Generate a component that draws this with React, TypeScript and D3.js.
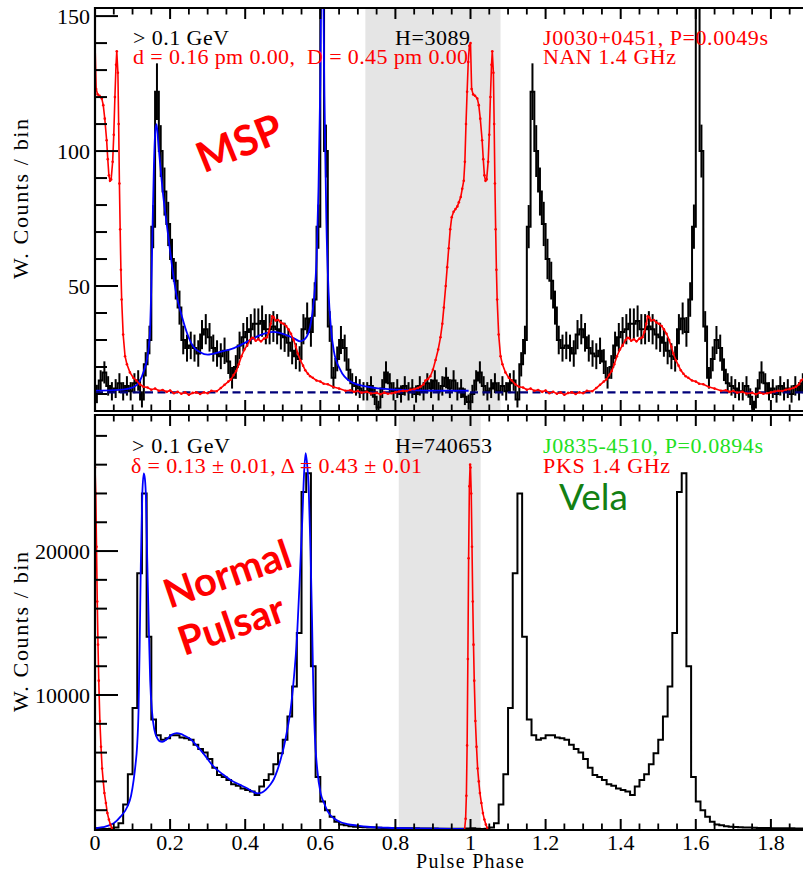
import React from 'react';
import * as d3 from 'd3';

// ---------------- data ----------------
const PHASE_DOMAIN: [number, number] = [0, 2];
const ROTATIONS = [0, 1];

// MSP J0030+0451 gamma-ray light curve (weighted counts per 0.01 phase bin)
const MSP_BIN = 0.01;
const MSP_COUNTS = [
  10, 15, 18, 13, 11, 12, 14, 11, 13, 11, 14, 15, 8, 21, 30, 72, 122, 100, 85, 73,
  60, 52, 42, 30, 27, 28, 27, 25, 32, 34, 31, 27, 25, 24, 26, 22, 16, 20, 28, 31,
  33, 34, 36, 36, 37, 34, 34, 35, 34, 32, 31, 29, 26, 24, 23, 34, 38, 33, 45, 72,
  170, 100, 35, 16, 23, 30, 27, 19, 14, 13, 12, 11, 11, 13, 9, 5, 12, 18, 14, 11,
  12, 10, 13, 11, 12, 10, 13, 11, 14, 12, 15, 11, 13, 16, 12, 15, 11, 12, 9, 7,
];
const MSP_ERRORS = [
  3.4, 3.8, 4.1, 3.6, 3.4, 3.5, 3.7, 3.4, 3.6, 3.4, 3.7, 3.8, 3.0,
  4.5, 5.3, 8.0, 10.5, 9.6, 8.9, 8.2, 7.5, 7.0, 6.3, 5.3, 5.0,
  5.1, 5.0, 4.9, 5.4, 5.6, 5.3, 5.0, 4.9, 4.8, 4.9, 4.6, 4.0, 4.4, 5.1, 5.3, 5.5, 5.6,
  5.7, 5.7, 5.8, 5.6, 5.6, 5.7, 5.6, 5.5, 5.4, 5.2, 5.0, 4.8, 4.7, 5.6, 5.9, 5.5, 6.4,
  8.2, 12.5, 9.8, 5.7, 4.0, 4.6, 5.2, 5.0, 4.2, 3.7, 3.6,
  3.5, 3.4, 3.4, 3.6, 3.1, 2.5, 3.5, 4.1, 3.7, 3.4, 3.5, 3.2, 3.6, 3.4, 3.5, 3.2, 3.6,
  3.4, 3.7, 3.5, 3.8, 3.4, 3.6, 3.9, 3.5, 3.8, 3.4, 3.5, 3.1, 2.8,
];
const MSP_BACKGROUND = 10.6;
const MSP_FIT: [number, number][] = [
  [0, 11.2], [0.05, 11.4], [0.09, 12], [0.11, 13.2], [0.12, 15], [0.13, 18.5], [0.138, 22.6],
  [0.146, 32], [0.15, 50], [0.153, 70], [0.157, 95], [0.161, 108], [0.164, 110], [0.168, 104],
  [0.173, 96], [0.182, 83], [0.191, 73], [0.2, 63], [0.209, 53.5], [0.218, 46], [0.227, 41],
  [0.245, 32.6], [0.262, 27.5], [0.28, 25.5], [0.3, 24.6], [0.333, 25.6], [0.37, 27],
  [0.405, 29.4], [0.44, 31.8], [0.475, 33], [0.51, 31.8], [0.53, 30.6], [0.547, 29.5],
  [0.56, 30.5], [0.573, 35], [0.583, 45], [0.59, 60], [0.595, 85], [0.6, 125], [0.603, 165],
  [0.607, 165], [0.611, 120], [0.616, 75], [0.622, 48], [0.628, 35], [0.636, 26], [0.653, 19],
  [0.68, 14.6], [0.724, 12.7], [0.8, 11.6], [0.9, 11.2], [0.995, 11.2],
];
const MSP_RADIO: [number, number][] = [
  [0.000, 140], [0.003, 123], [0.007, 121], [0.012, 120.5], [0.018, 119.5], [0.022, 117],
  [0.026, 112], [0.031, 104], [0.034, 97], [0.037, 91], [0.040, 89], [0.043, 89.5], [0.047, 96],
  [0.050, 106], [0.053, 120], [0.056, 132], [0.058, 137], [0.061, 129], [0.063, 110], [0.065, 88],
  [0.067, 71], [0.069, 56], [0.071, 45], [0.075, 32], [0.080, 24], [0.085, 21], [0.093, 18],
  [0.102, 16], [0.110, 15], [0.120, 13.5], [0.129, 12.7], [0.14, 12.4], [0.15, 11.6], [0.16, 12],
  [0.17, 11.2], [0.18, 11.5], [0.191, 10.8], [0.20, 11.3], [0.21, 10.3], [0.22, 10.8], [0.23, 10.1],
  [0.24, 10.6], [0.25, 9.7], [0.26, 10.4], [0.27, 10.6], [0.28, 10], [0.29, 10.6], [0.30, 10.3],
  [0.31, 11.2], [0.324, 11], [0.335, 12.2], [0.345, 13.4], [0.355, 14.6], [0.362, 15.4], [0.369, 17],
  [0.376, 18.5], [0.383, 21], [0.39, 24], [0.398, 26.5], [0.405, 28], [0.413, 30], [0.418, 30.8],
  [0.422, 30.7], [0.428, 29.7], [0.435, 30.3], [0.442, 29.5], [0.45, 30.5], [0.458, 31], [0.463, 33],
  [0.468, 36], [0.472, 38.8], [0.476, 38.4], [0.481, 37.2], [0.488, 37.4], [0.495, 36.5], [0.502, 36],
  [0.509, 35.2], [0.515, 34], [0.522, 32.3], [0.529, 30], [0.535, 27.5], [0.54, 25], [0.547, 22.5],
  [0.554, 20.5], [0.56, 18.8], [0.567, 17.5], [0.573, 16.6], [0.58, 16], [0.59, 15], [0.6, 14.6],
  [0.609, 13.8], [0.62, 13.6], [0.635, 12.6], [0.65, 12], [0.667, 11.2], [0.68, 11.4], [0.69, 10.8],
  [0.70, 11.1], [0.71, 10.5], [0.724, 10.8], [0.735, 10.2], [0.75, 10.4], [0.76, 9.9], [0.77, 10.5],
  [0.78, 10.1], [0.79, 10.3], [0.80, 10.6], [0.81, 10.9], [0.82, 11.2], [0.83, 11.1], [0.84, 11.6],
  [0.85, 11.8], [0.86, 12.2], [0.867, 12.7], [0.875, 13.6], [0.88, 15], [0.887, 15.6], [0.893, 16.6],
  [0.90, 19], [0.907, 22.6], [0.914, 26.5], [0.92, 31], [0.925, 36], [0.929, 42], [0.934, 50],
  [0.938, 57], [0.942, 64], [0.946, 71], [0.950, 75.5], [0.955, 77.5], [0.960, 78.5], [0.965, 79.5],
  [0.969, 81], [0.974, 83], [0.978, 86], [0.982, 89], [0.985, 96], [0.988, 110], [0.991, 122],
  [0.994, 133], [0.997, 139],
];
const MSP_OFFPULSE: [number, number] = [0.72, 1.08];
const MSP_Y: [number, number] = [3.7, 153];
const MSP_Y_MAJOR = [50, 100, 150];
const MSP_Y_MINOR_STEP = 10;

// Vela gamma-ray light curve (weighted counts per 0.0125 phase bin)
const VELA_BIN = 0.0125;
const VELA_COUNTS = [
  740, 720, 700, 720, 800, 1100, 2400, 4500, 9100, 18450, 24000, 14050, 8300, 7200, 6900, 7000,
  7200, 7200, 7050, 7000, 6900, 6550, 6250, 6000, 5550, 4950, 4450, 4300, 4100, 3800, 3700, 3500,
  3400, 3300, 3050, 3650, 4100, 4500, 5200, 5950, 6900, 8500, 10600, 14300, 24100, 25400, 12000,
  4300, 2600, 2000, 1550, 1200, 1000, 950, 880, 850, 830, 810, 800, 790, 780, 770, 760, 760, 750,
  750, 745, 740, 740, 735, 730, 730, 725, 720, 720, 715, 715, 710, 720, 730,
];
const VELA_FIT: [number, number][] = [
  [0, 740], [0.02, 820], [0.05, 1090], [0.068, 1550], [0.086, 2240], [0.096, 3000], [0.103, 4100],
  [0.108, 5200], [0.112, 6400], [0.116, 9000], [0.119, 13500], [0.122, 19000], [0.126, 24000],
  [0.130, 25400], [0.133, 25000], [0.136, 23500], [0.139, 19500], [0.143, 15000], [0.147, 11000],
  [0.152, 8800], [0.158, 7600], [0.166, 7000], [0.172, 6800], [0.179, 6750], [0.192, 6950],
  [0.205, 7250], [0.218, 7350], [0.228, 7300], [0.24, 7150], [0.254, 6950], [0.27, 6500],
  [0.29, 5900], [0.316, 5020], [0.34, 4500], [0.361, 4100], [0.385, 3780], [0.405, 3520],
  [0.42, 3300], [0.432, 3170], [0.444, 3220], [0.454, 3400], [0.466, 3750], [0.476, 4150],
  [0.486, 4800], [0.494, 5490], [0.503, 6400], [0.512, 7570], [0.521, 9000], [0.529, 11000],
  [0.538, 14050], [0.546, 18500], [0.552, 22150], [0.557, 25500], [0.561, 26800], [0.565, 26000],
  [0.569, 24450], [0.574, 20000], [0.578, 15200], [0.581, 11000], [0.585, 7500], [0.592, 4800],
  [0.601, 3170], [0.61, 2500], [0.618, 2010], [0.627, 1650], [0.636, 1440], [0.65, 1220],
  [0.672, 1040], [0.70, 930], [0.725, 850], [0.78, 780], [0.849, 740], [0.92, 715], [0.982, 700],
];
const VELA_RADIO: [number, number][] = [
  [0.000, 25800], [0.002, 24000], [0.004, 20300], [0.006, 16500], [0.008, 13500], [0.010, 11000],
  [0.013, 8200], [0.016, 6400], [0.019, 4900], [0.022, 4000], [0.025, 3200], [0.029, 2500],
  [0.033, 1800], [0.037, 1350], [0.041, 1000], [0.045, 760], [0.05, 560], [0.055, 420], [0.06, 300],
  [0.07, 150], [0.1, 50], [0.5, 0], [0.95, 0], [0.975, 80], [0.980, 250], [0.984, 600], [0.987, 1400],
  [0.989, 3000], [0.991, 6500], [0.993, 12500], [0.995, 19500], [0.997, 24500], [0.999, 26000],
];
const VELA_OFFPULSE: [number, number] = [0.809, 1.027];
const VELA_Y: [number, number] = [625, 29450];
const VELA_Y_MAJOR = [10000, 20000];
const VELA_Y_MINOR_STEP = 2000;

// ---------------- layout ----------------
const W = 803;
const H = 876;
const X0 = 95;
const X1 = 846;
const TOP = { y0: 8, y1: 411 };
const BOT = { y0: 415, y1: 830 };
const SERIF = "'Liberation Serif', 'Times New Roman', Times, serif";
const SANS = "Lato, 'Open Sans', 'Noto Sans', sans-serif";

type Pt = [number, number];

function Panel(props: {
  id: string;
  x: d3.ScaleLinear<number, number>;
  y: d3.ScaleLinear<number, number>;
  y0: number;
  y1: number;
  counts: number[];
  bin: number;
  errors?: number[];
  fit: Pt[];
  radio: Pt[];
  offpulse: [number, number];
  background?: number;
  yMajor: number[];
  yMinorStep: number;
}) {
  const { id, x, y, y0, y1, counts, bin, errors, fit, radio, offpulse, background, yMajor, yMinorStep } = props;
  const [d0, d1] = y.domain();

  const hist: Pt[] = [];
  ROTATIONS.forEach((r) => counts.forEach((c, i) => hist.push([r + i * bin, c])));
  hist.push([ROTATIONS.length, counts[counts.length - 1]]);
  const stepLine = d3
    .line<Pt>()
    .x((d) => x(d[0]))
    .y((d) => y(d[1]))
    .curve(d3.curveStepAfter);

  const smooth = d3
    .line<Pt>()
    .x((d) => x(d[0]))
    .y((d) => y(d[1]))
    .curve(d3.curveMonotoneX);

  const radioPts: Pt[] = [];
  [-1, 0, 1, 2].forEach((r) => radio.forEach(([p, v]) => radioPts.push([p + r, v])));
  const radioVis = radioPts.filter((d) => d[0] >= -0.12 && d[0] <= 2.12);
  const radioLine = d3
    .line<Pt>()
    .x((d) => x(d[0]))
    .y((d) => y(d[1]));

  const xMajor = d3.ticks(PHASE_DOMAIN[0], PHASE_DOMAIN[1], 10);
  const xMinor = d3.ticks(PHASE_DOMAIN[0], PHASE_DOMAIN[1], 40).filter(
    (t) => !xMajor.some((m) => Math.abs(m - t) < 1e-9)
  );
  const yMinor = d3
    .range(Math.ceil(d0 / yMinorStep) * yMinorStep, d1, yMinorStep)
    .filter((t) => !yMajor.includes(t));

  const clipId = `clip-${id}`;
  return (
    <g>
      <defs>
        <clipPath id={clipId}>
          <rect x={X0 - 1} y={y0} width={X1 - X0 + 1} height={y1 - y0} />
        </clipPath>
      </defs>
      <rect
        x={x(offpulse[0])}
        y={y0}
        width={x(offpulse[1]) - x(offpulse[0])}
        height={y1 - y0}
        fill="#e5e5e5"
      />
      <g clipPath={`url(#${clipId})`}>
        <path d={stepLine(hist) || ''} fill="none" stroke="#000" strokeWidth={2} />
        {errors &&
          ROTATIONS.map((r) =>
            counts.map((c, i) => {
              const cx = x(r + (i + 0.5) * bin);
              return (
                <line
                  key={`e${r}-${i}`}
                  x1={cx}
                  x2={cx}
                  y1={y(c - errors[i])}
                  y2={y(c + errors[i])}
                  stroke="#000"
                  strokeWidth={2}
                />
              );
            })
          )}
        <path d={smooth(fit) || ''} fill="none" stroke="#0000ff" strokeWidth={1.8} />
        {background !== undefined && (
          <line
            x1={X0}
            x2={X1}
            y1={y(background)}
            y2={y(background)}
            stroke="#00007a"
            strokeWidth={2.2}
            strokeDasharray="8,4.5"
          />
        )}
        <path d={radioLine(radioVis) || ''} fill="none" stroke="#ff0000" strokeWidth={1.6} />
        {radioVis
          .filter((d) => d[1] >= d0 && d[1] <= d1 && d[0] >= 0 && d[0] <= 2)
          .map((d, i) => (
            <circle key={`r${i}`} cx={x(d[0])} cy={y(d[1])} r={1.3} fill="#ff0000" />
          ))}
      </g>
      <line x1={X0} x2={W + 5} y1={y0} y2={y0} stroke="#000" strokeWidth={2} />
      <line x1={X0} x2={W + 5} y1={y1} y2={y1} stroke="#000" strokeWidth={2} />
      <line x1={X0} x2={X0} y1={y0 - 1} y2={y1 + 1} stroke="#000" strokeWidth={2.2} />
      {xMajor.map((t) => (
        <g key={`xM${t}`}>
          <line x1={x(t)} x2={x(t)} y1={y0} y2={y0 + 11} stroke="#000" strokeWidth={2} />
          <line x1={x(t)} x2={x(t)} y1={y1} y2={y1 - 11} stroke="#000" strokeWidth={2} />
        </g>
      ))}
      {xMinor.map((t) => (
        <g key={`xm${t}`}>
          <line x1={x(t)} x2={x(t)} y1={y0} y2={y0 + 6.5} stroke="#000" strokeWidth={1.8} />
          <line x1={x(t)} x2={x(t)} y1={y1} y2={y1 - 6.5} stroke="#000" strokeWidth={1.8} />
        </g>
      ))}
      {yMajor.map((t) => (
        <g key={`yM${t}`}>
          <line x1={X0} x2={X0 + 23} y1={y(t)} y2={y(t)} stroke="#000" strokeWidth={2} />
          <text
            x={90}
            y={y(t)}
            dy="0.36em"
            textAnchor="end"
            style={{ fontFamily: SERIF }}
            fontSize={22}
            fill="#000"
          >
            {t}
          </text>
        </g>
      ))}
      {yMinor.map((t) => (
        <line key={`ym${t}`} x1={X0} x2={X0 + 12} y1={y(t)} y2={y(t)} stroke="#000" strokeWidth={2} />
      ))}
    </g>
  );
}

function T(props: {
  x: number;
  y: number;
  len: number;
  fill?: string;
  size?: number;
  children: React.ReactNode;
}) {
  return (
    <text
      x={props.x}
      y={props.y}
      fontSize={props.size || 22}
      fill={props.fill || '#000'}
      textLength={props.len}
      lengthAdjust="spacing"
      style={{ whiteSpace: 'pre', fontFamily: SERIF }}
    >
      {props.children}
    </text>
  );
}

export default function App() {
  const x = d3.scaleLinear().domain(PHASE_DOMAIN).range([X0, X1]);
  const yTop = d3.scaleLinear().domain(MSP_Y).range([TOP.y1, TOP.y0]);
  const yBot = d3.scaleLinear().domain(VELA_Y).range([BOT.y1, BOT.y0]);
  const xLabels = d3.ticks(PHASE_DOMAIN[0], PHASE_DOMAIN[1], 10).filter((t) => x(t) < W - 12);
  const fmt = d3.format('~g');

  return (
    <svg
      width={W}
      height={H}
      viewBox={`0 0 ${W} ${H}`}
      style={{ position: 'absolute', left: 0, top: 0, background: '#fff' }}
    >
      <rect x={0} y={0} width={W} height={H} fill="#fff" />
      <Panel
        id="msp"
        x={x}
        y={yTop}
        y0={TOP.y0}
        y1={TOP.y1}
        counts={MSP_COUNTS}
        bin={MSP_BIN}
        errors={MSP_ERRORS}
        fit={MSP_FIT}
        radio={MSP_RADIO}
        offpulse={MSP_OFFPULSE}
        background={MSP_BACKGROUND}
        yMajor={MSP_Y_MAJOR}
        yMinorStep={MSP_Y_MINOR_STEP}
      />
      <Panel
        id="vela"
        x={x}
        y={yBot}
        y0={BOT.y0}
        y1={BOT.y1}
        counts={VELA_COUNTS}
        bin={VELA_BIN}
        fit={VELA_FIT}
        radio={VELA_RADIO}
        offpulse={VELA_OFFPULSE}
        yMajor={VELA_Y_MAJOR}
        yMinorStep={VELA_Y_MINOR_STEP}
      />

      {xLabels.map((t) => (
        <text
          key={`xl${t}`}
          x={x(t)}
          y={850}
          textAnchor="middle"
          style={{ fontFamily: SERIF }}
          fontSize={22}
          fill="#000"
        >
          {fmt(t)}
        </text>
      ))}
      <text
        x={470}
        y={868}
        textAnchor="middle"
        style={{ fontFamily: SERIF }}
        fontSize={20}
        textLength={108}
        lengthAdjust="spacing"
      >
        Pulse Phase
      </text>

      <text
        transform="translate(28,199) rotate(-90)"
        textAnchor="middle"
        style={{ fontFamily: SERIF }}
        fontSize={22}
        textLength={160}
        lengthAdjust="spacing"
      >
        W. Counts / bin
      </text>
      <text
        transform="translate(28,632) rotate(-90)"
        textAnchor="middle"
        style={{ fontFamily: SERIF }}
        fontSize={22}
        textLength={160}
        lengthAdjust="spacing"
      >
        W. Counts / bin
      </text>

      <T x={133} y={45} len={96}>{'> 0.1 GeV'}</T>
      <T x={133} y={64} len={335} fill="#ff0000">{'d = 0.16 pm 0.00,  D = 0.45 pm 0.00'}</T>
      <T x={395} y={45} len={75}>{'H=3089'}</T>
      <T x={543} y={45} len={225} fill="#ff0000">{'J0030+0451, P=0.0049s'}</T>
      <T x={543} y={64} len={133} fill="#ff0000">{'NAN 1.4 GHz'}</T>

      <T x={132} y={453} len={98}>{'> 0.1 GeV'}</T>
      <T x={131} y={473} len={291} fill="#ff0000">{'δ = 0.13 ± 0.01, Δ = 0.43 ± 0.01'}</T>
      <T x={395} y={453} len={97}>{'H=740653'}</T>
      <T x={543} y={453} len={220} fill="#22e022">{'J0835-4510, P=0.0894s'}</T>
      <T x={543} y={473} len={127} fill="#ff0000">{'PKS 1.4 GHz'}</T>

      <text x={559} y={510} style={{ fontFamily: SANS }} fontSize={37} fill="#138013">
        Vela
      </text>

      <text
        transform="translate(239,142) rotate(-22)"
        textAnchor="middle"
        dominantBaseline="central"
        style={{ fontFamily: SANS }}
        fontWeight={700}
        fontSize={42}
        fill="#ff0000"
      >
        MSP
      </text>
      <text
        transform="translate(227,573) rotate(-19)"
        textAnchor="middle"
        dominantBaseline="central"
        style={{ fontFamily: SANS }}
        fontWeight={700}
        fontSize={40}
        fill="#ff0000"
      >
        Normal
      </text>
      <text
        transform="translate(231,624) rotate(-19)"
        textAnchor="middle"
        dominantBaseline="central"
        style={{ fontFamily: SANS }}
        fontWeight={700}
        fontSize={40}
        fill="#ff0000"
      >
        Pulsar
      </text>
    </svg>
  );
}
